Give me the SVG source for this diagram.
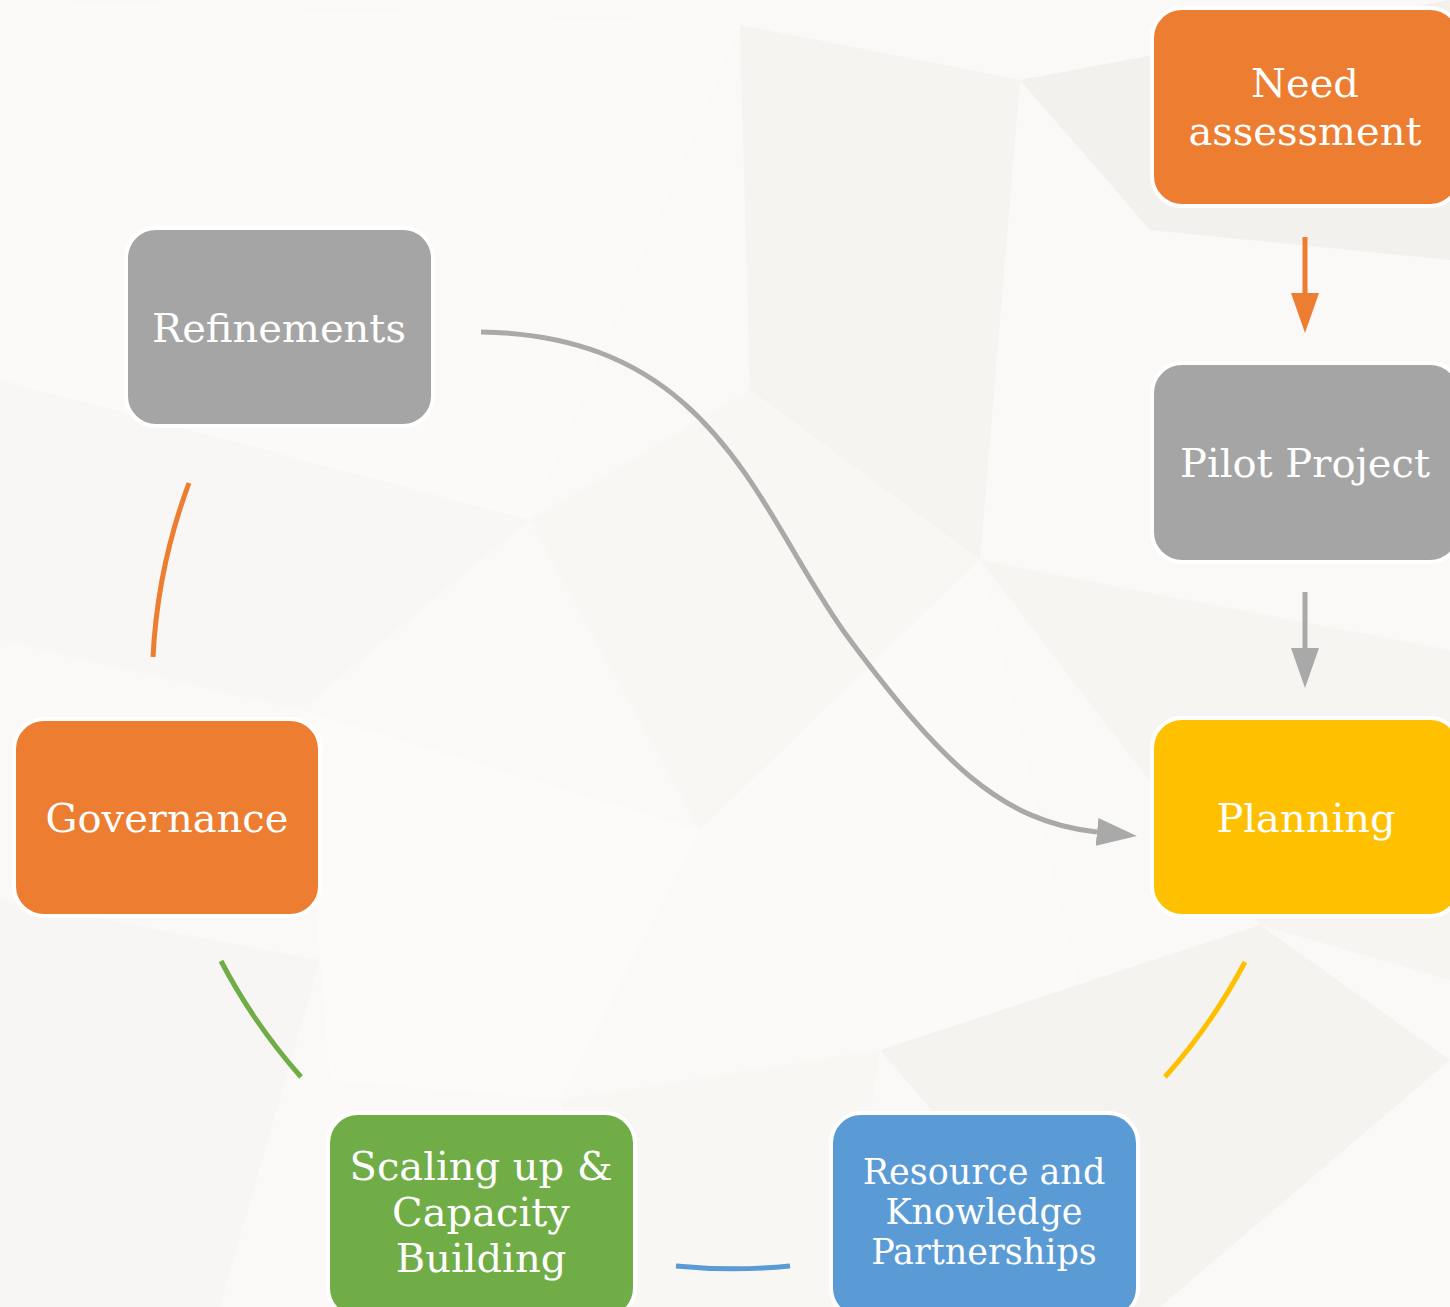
<svg xmlns="http://www.w3.org/2000/svg" width="1450" height="1307" viewBox="0 0 1450 1307">
<style>
.node rect{stroke:#fff;stroke-width:4}
.node text{font-family:"DejaVu Serif","Liberation Serif",serif;fill:#fff;text-anchor:middle;font-size:40px}
.conn{fill:none;stroke-width:5}
</style>
<defs>
<marker id="hO" markerUnits="userSpaceOnUse" markerWidth="40" markerHeight="28" refX="0" refY="14" orient="auto"><path d="M0,0 L40,14 L0,28 Z" fill="#ED7D31"/></marker>
<marker id="hG" markerUnits="userSpaceOnUse" markerWidth="40" markerHeight="28" refX="0" refY="14" orient="auto"><path d="M0,0 L40,14 L0,28 Z" fill="#A9A9A9"/></marker>
</defs>
<g id="background">
<rect width="1450" height="1307" fill="#FAF9F7"/>
<polygon points="0,0 740,25 530,520 0,380" fill="#FBFAF8"/>
<polygon points="740,25 1020,80 980,560 750,390" fill="#F5F4F1"/>
<polygon points="1020,80 1450,0 1450,260 1150,230" fill="#F3F1EE"/>
<polygon points="530,520 750,390 980,560 700,830" fill="#F8F7F4"/>
<polygon points="0,380 530,520 300,710 0,640" fill="#F8F7F5"/>
<polygon points="980,560 1450,650 1450,980 1260,925" fill="#F6F5F2"/>
<polygon points="700,830 980,560 1100,1080 880,1050" fill="#FBFAF8"/>
<polygon points="0,900 320,960 220,1307 0,1307" fill="#F7F6F4"/>
<polygon points="880,1050 1260,925 1450,1060 1160,1307 1100,1307" fill="#F4F3F0"/>
<polygon points="300,710 700,830 560,1100 330,1080" fill="#FCFBFA"/>
<polygon points="560,1100 880,1050 840,1307 620,1307" fill="#F8F7F4"/>
</g>
<g id="connectors">
<line class="conn" x1="1305" y1="237" x2="1305" y2="293" stroke="#ED7D31" marker-end="url(#hO)"/>
<line class="conn" x1="1305" y1="592" x2="1305" y2="648" stroke="#A9A9A9" marker-end="url(#hG)"/>
<path class="conn" d="M481,332 C720,335 760,520 850,640 C940,760 1000,822 1097,832" stroke="#A9A9A9" stroke-width="4" marker-end="url(#hG)"/>
<path class="conn" d="M189,483 A581,581 0 0 0 153,657" stroke="#ED7D31" stroke-width="4"/>
<path class="conn" d="M221,961 A581,581 0 0 0 301,1077" stroke="#70AD47" stroke-width="4"/>
<path class="conn" d="M676,1266 A581,581 0 0 0 790,1266" stroke="#5B9BD5" stroke-width="4"/>
<path class="conn" d="M1165,1077 A581,581 0 0 0 1245,962" stroke="#FFC000" stroke-width="4"/>
</g>
<g id="need-assessment" class="node">
<rect x="1152" y="8" width="308" height="198" rx="30" fill="#ED7D31"/>
<text x="1305" y="97">Need</text>
<text x="1305" y="145">assessment</text>
</g>
<g id="pilot-project" class="node">
<rect x="1152" y="363" width="308" height="199" rx="30" fill="#A5A5A5"/>
<text x="1305" y="477">Pilot Project</text>
</g>
<g id="planning" class="node">
<rect x="1152" y="718" width="308" height="198" rx="30" fill="#FFC000"/>
<text x="1306" y="832">Planning</text>
</g>
<g id="refinements" class="node">
<rect x="126" y="228" width="307" height="198" rx="30" fill="#A5A5A5"/>
<text x="279" y="342">Refinements</text>
</g>
<g id="governance" class="node">
<rect x="14" y="719" width="306" height="197" rx="30" fill="#ED7D31"/>
<text x="167" y="832">Governance</text>
</g>
<g id="scaling-up" class="node">
<rect x="328" y="1113" width="307" height="205" rx="30" fill="#70AD47"/>
<text x="481" y="1180">Scaling up &amp;</text>
<text x="481" y="1226">Capacity</text>
<text x="481" y="1272">Building</text>
</g>
<g id="resource-partnerships" class="node">
<rect x="831" y="1113" width="307" height="205" rx="30" fill="#5B9BD5"/>
<text x="984" y="1184" style="font-size:35px">Resource and</text>
<text x="984" y="1224" style="font-size:35px">Knowledge</text>
<text x="984" y="1264" style="font-size:35px">Partnerships</text>
</g>
</svg>
